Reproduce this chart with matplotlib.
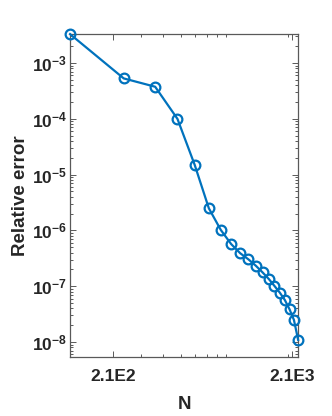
import matplotlib
matplotlib.use("Agg")
import matplotlib.pyplot as plt
from matplotlib.ticker import FixedLocator, NullFormatter

# data
N = [120, 240, 360, 480, 600, 720, 840, 960, 1080, 1200,
     1320, 1440, 1560, 1680, 1800, 1920, 2040, 2160, 2280]
rel_err = [3.3e-3, 5.3e-4, 3.76e-4, 1.0e-4, 1.49e-5, 2.49e-6, 1.02e-6,
           5.7e-7, 3.89e-7, 3.03e-7, 2.33e-7, 1.77e-7, 1.35e-7, 1.01e-7,
           7.66e-8, 5.66e-8, 3.86e-8, 2.48e-8, 1.09e-8]

xticks = [210, 2100]
xticklabels = ["2.1E2", "2.1E3"]
yticks = [1e-8, 1e-7, 1e-6, 1e-5, 1e-4, 1e-3]
yticklabels = [r"$\mathbf{10^{-8}}$", r"$\mathbf{10^{-7}}$", r"$\mathbf{10^{-6}}$",
               r"$\mathbf{10^{-5}}$", r"$\mathbf{10^{-4}}$", r"$\mathbf{10^{-3}}$"]

plt.rcParams["font.family"] = ["Liberation Sans", "DejaVu Sans"]
plt.rcParams["font.weight"] = "bold"
plt.rcParams["mathtext.fontset"] = "custom"
plt.rcParams["mathtext.rm"] = "Liberation Sans:bold"
plt.rcParams["mathtext.bf"] = "Liberation Sans:bold"

fig = plt.figure(figsize=(3.32, 4.16), dpi=100)
ax = fig.add_axes([0.211, 0.142, 0.687, 0.776])

ax.plot(N, rel_err, color="#0072BD", lw=1.6, marker="o", ms=7,
        mfc="none", mec="#0072BD", mew=1.6, clip_on=False, zorder=3)

ax.set_xscale("log")
ax.set_yscale("log")
ax.set_xlim(N[0], N[-1])
ax.set_ylim(5.4e-9, rel_err[0])

ax.xaxis.set_major_locator(FixedLocator(xticks))
ax.set_xticklabels(xticklabels)
ax.xaxis.set_minor_locator(FixedLocator([300, 400, 500, 600, 700, 800, 900, 2000]))
ax.xaxis.set_minor_formatter(NullFormatter())

ax.yaxis.set_major_locator(FixedLocator(yticks))
ax.set_yticklabels(yticklabels)
minors = [m * 10.0 ** e for e in range(-9, -2) for m in range(2, 10)]
ax.yaxis.set_minor_locator(FixedLocator(minors))
ax.yaxis.set_minor_formatter(NullFormatter())

for s in ax.spines.values():
    s.set_color("0.35")
    s.set_linewidth(0.9)
ax.tick_params(which="both", direction="in", top=True, right=True, colors="0.35",
               labelcolor="#262626", width=0.7)
ax.tick_params(which="major", length=4, labelsize=12.5)
ax.tick_params(which="minor", length=2)
ax.tick_params(axis="x", pad=9)
ax.tick_params(axis="y", pad=2)

ax.set_xlabel("N", fontsize=13.5, fontweight="bold", color="#262626", labelpad=8)
ax.set_ylabel("Relative error", fontsize=13.5, fontweight="bold", color="#262626", labelpad=2)

fig.savefig("out.png", dpi=100)
